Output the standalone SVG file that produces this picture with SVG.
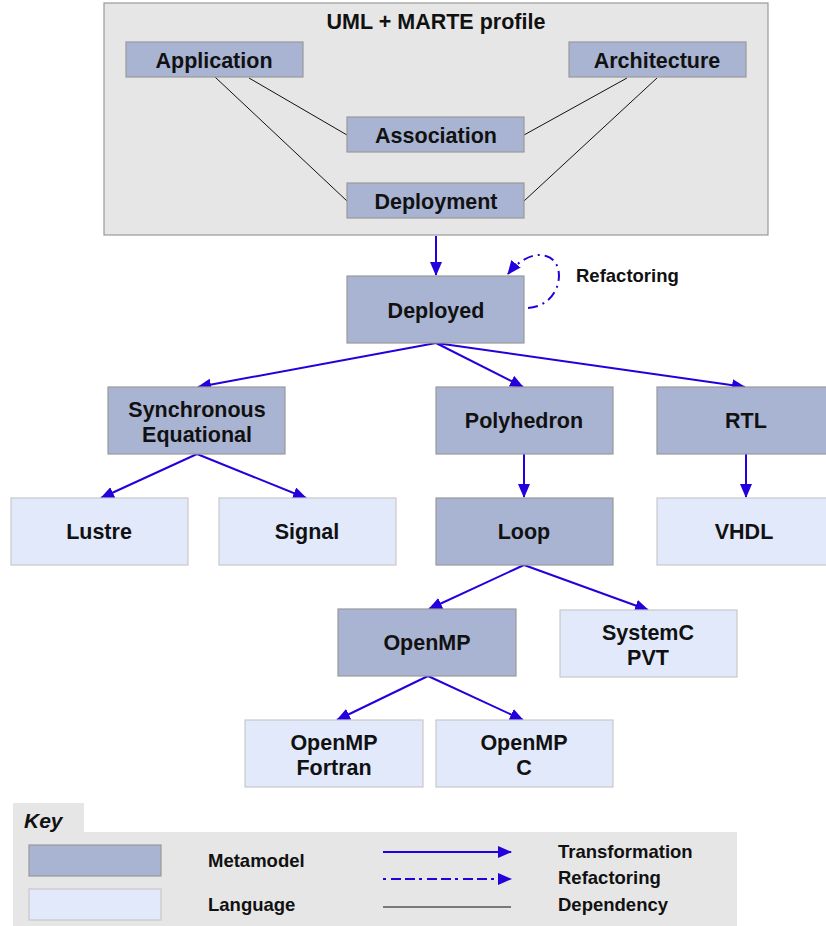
<svg xmlns="http://www.w3.org/2000/svg" width="826" height="926" viewBox="0 0 826 926">
<style>
.meta{fill:#a9b4d3;stroke:#999;stroke-width:1.2}
.lang{fill:#e1e9fb;stroke:#c8c8c8;stroke-width:1.2}
.t{font-family:"Liberation Sans",Arial,sans-serif;font-weight:bold;font-size:21.5px;text-anchor:middle;fill:#111}
.s{font-family:"Liberation Sans",Arial,sans-serif;font-weight:bold;font-size:18.5px;fill:#111}
.tr{fill:none;stroke:#2400dc;stroke-width:2}
.dep{fill:none;stroke:#111;stroke-width:1}
.ref{fill:none;stroke:#2400dc;stroke-width:2;stroke-dasharray:10,5,2,5}
</style>
<defs>
<marker id="ah" markerUnits="userSpaceOnUse" markerWidth="14" markerHeight="12" refX="13" refY="6" orient="auto">
<path d="M0,0 L14,6 L0,12 Z" fill="#2400dc"/>
</marker>
</defs>
<rect width="826" height="926" fill="#fff"/>
<g id="uml-marte">
<rect x="104" y="3" width="664" height="232" fill="#e6e6e6" stroke="#999" stroke-width="1.2"/>
<text class="t" x="436" y="29">UML + MARTE profile</text>
</g>
<g id="connectors">
<line class="dep" x1="215" y1="77" x2="347" y2="201"/>
<line class="dep" x1="249" y1="78" x2="347" y2="135"/>
<line class="dep" x1="627" y1="78" x2="524" y2="135"/>
<line class="dep" x1="657" y1="78" x2="524" y2="201"/>
<line class="tr" x1="436" y1="236" x2="436" y2="275" marker-end="url(#ah)"/>
<path class="ref" d="M528,308 C562,306 568,262 546,256 C534,252 519,260 508,274" marker-end="url(#ah)"/>
<line class="tr" x1="436" y1="343" x2="198" y2="387" marker-end="url(#ah)"/>
<line class="tr" x1="436" y1="343" x2="523" y2="387" marker-end="url(#ah)"/>
<line class="tr" x1="436" y1="343" x2="745" y2="387" marker-end="url(#ah)"/>
<line class="tr" x1="197" y1="454" x2="101" y2="498" marker-end="url(#ah)"/>
<line class="tr" x1="197" y1="454" x2="306" y2="498" marker-end="url(#ah)"/>
<line class="tr" x1="524" y1="454" x2="524" y2="497" marker-end="url(#ah)"/>
<line class="tr" x1="746" y1="454" x2="746" y2="497" marker-end="url(#ah)"/>
<line class="tr" x1="524" y1="565" x2="429" y2="609" marker-end="url(#ah)"/>
<line class="tr" x1="524" y1="565" x2="648" y2="610" marker-end="url(#ah)"/>
<line class="tr" x1="428" y1="676" x2="337" y2="720" marker-end="url(#ah)"/>
<line class="tr" x1="428" y1="676" x2="523" y2="720" marker-end="url(#ah)"/>
</g>
<g id="application"><rect class="meta" x="126" y="42" width="177" height="35"/><text class="t" x="214" y="68">Application</text></g>
<g id="architecture"><rect class="meta" x="569" y="42" width="177" height="35"/><text class="t" x="657" y="68">Architecture</text></g>
<g id="association"><rect class="meta" x="347" y="117" width="177" height="35"/><text class="t" x="436" y="143">Association</text></g>
<g id="deployment"><rect class="meta" x="347" y="183" width="177" height="35"/><text class="t" x="436" y="209">Deployment</text></g>
<g id="deployed"><rect class="meta" x="347" y="276" width="177" height="67"/><text class="t" x="436" y="318">Deployed</text></g>
<g id="refactoring-label"><text class="s" x="576" y="282">Refactoring</text></g>
<g id="synchronous"><rect class="meta" x="108" y="387" width="177" height="67"/><text class="t" x="197" y="417">Synchronous</text><text class="t" x="197" y="442">Equational</text></g>
<g id="polyhedron"><rect class="meta" x="436" y="387" width="177" height="67"/><text class="t" x="524" y="428">Polyhedron</text></g>
<g id="rtl"><rect class="meta" x="657" y="387" width="177" height="67"/><text class="t" x="746" y="428">RTL</text></g>
<g id="lustre"><rect class="lang" x="11" y="498" width="177" height="67"/><text class="t" x="99" y="539">Lustre</text></g>
<g id="signal"><rect class="lang" x="219" y="498" width="177" height="67"/><text class="t" x="307" y="539">Signal</text></g>
<g id="loop"><rect class="meta" x="436" y="498" width="177" height="67"/><text class="t" x="524" y="539">Loop</text></g>
<g id="vhdl"><rect class="lang" x="657" y="498" width="177" height="67"/><text class="t" x="744" y="539">VHDL</text></g>
<g id="openmp"><rect class="meta" x="338" y="609" width="178" height="67"/><text class="t" x="427" y="650">OpenMP</text></g>
<g id="systemc-pvt"><rect class="lang" x="560" y="610" width="177" height="67"/><text class="t" x="648" y="640">SystemC</text><text class="t" x="648" y="665">PVT</text></g>
<g id="openmp-fortran"><rect class="lang" x="245" y="720" width="178" height="67"/><text class="t" x="334" y="750">OpenMP</text><text class="t" x="334" y="775">Fortran</text></g>
<g id="openmp-c"><rect class="lang" x="436" y="720" width="177" height="67"/><text class="t" x="524" y="750">OpenMP</text><text class="t" x="524" y="775">C</text></g>
<g id="key">
<rect x="13" y="803" width="71" height="30" fill="#e6e6e6"/>
<rect x="13" y="832" width="724" height="94" fill="#e6e6e6"/>
<text x="24" y="828" font-family="Liberation Sans,Arial,sans-serif" font-style="italic" font-weight="bold" font-size="21px" fill="#111">Key</text>
<rect class="meta" x="29" y="845" width="132" height="31"/>
<rect class="lang" x="29" y="889" width="132" height="31"/>
<text class="s" x="208" y="867">Metamodel</text>
<text class="s" x="208" y="911">Language</text>
<line class="tr" x1="383" y1="852" x2="511" y2="852" marker-end="url(#ah)"/>
<line x1="383" y1="879" x2="511" y2="879" stroke="#2400dc" stroke-width="2" stroke-dasharray="3,5,10,4,10,4" marker-end="url(#ah)"/>
<line x1="383" y1="907" x2="511" y2="907" stroke="#555" stroke-width="1.5"/>
<text class="s" x="558" y="858">Transformation</text>
<text class="s" x="558" y="884">Refactoring</text>
<text class="s" x="558" y="911">Dependency</text>
</g>
</svg>
